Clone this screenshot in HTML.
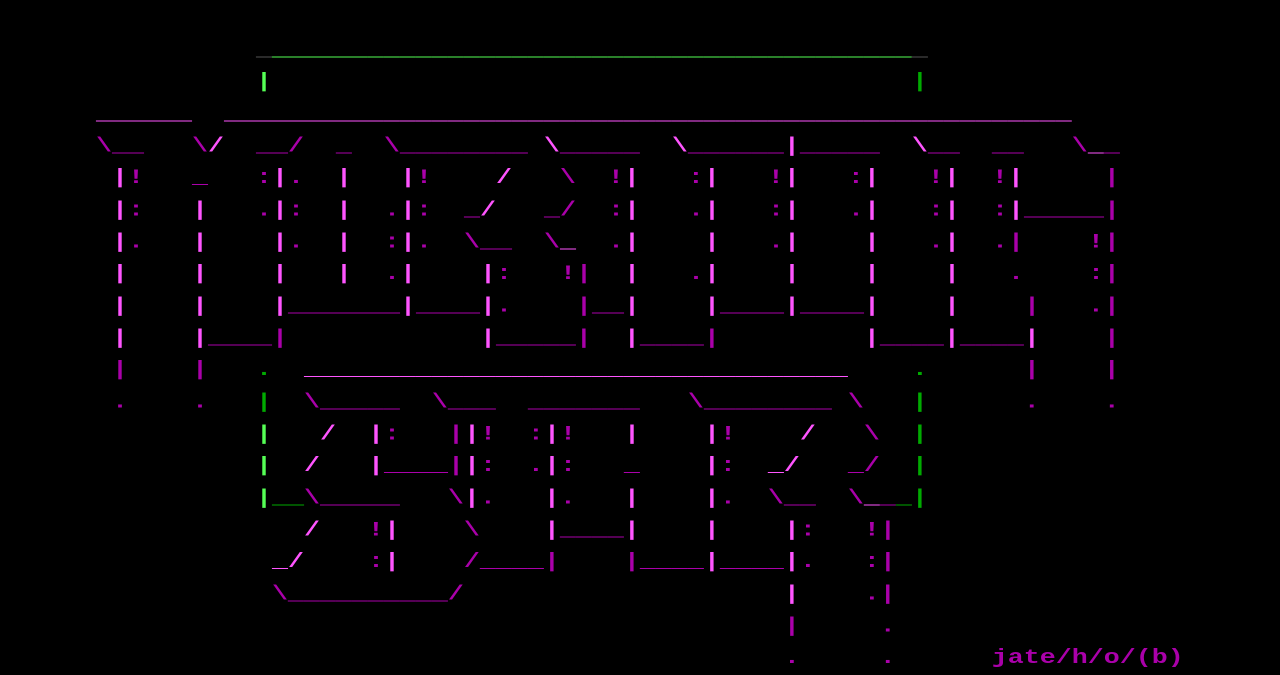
<!DOCTYPE html>
<html><head><meta charset="utf-8"><style>
html,body{margin:0;padding:0;background:#000;width:1280px;height:672px;overflow:hidden}
pre{position:absolute;left:0;top:3px;margin:0;padding:0;font-family:"Liberation Mono",monospace;font-weight:bold;font-size:26.667px;line-height:42.667px;color:#aa00aa;transform:scaleY(0.75);transform-origin:0 0;white-space:pre}
b{font-weight:bold;color:#ff55ff}
.g{color:#55ff55}.G{color:#00aa00}.k{color:#555555}
</style></head><body><pre>

                <span class="k">_</span><span class="g">________________________________________</span><span class="k">_</span>
                <span class="g">|</span>                                        <span class="G">|</span>
      <b>______</b>  <b>_____________________________________________________</b>
      \__   \<b>/</b>  __/  _  \________ <b>\</b>_____  <b>\</b>______<b>|</b>_____  <b>\</b>__  __   \<b>_</b>_
       <b>|</b>!   _   :<b>|</b>.  <b>|</b>   <b>|</b>!    <b>/</b>   \  !<b>|</b>   :<b>|</b>   !<b>|</b>   :<b>|</b>   !<b>|</b>  !<b>|</b>     |
       <b>|</b>:   <b>|</b>   .<b>|</b>:  <b>|</b>  .<b>|</b>:  _<b>/</b>   _/  :<b>|</b>   .<b>|</b>   :<b>|</b>   .<b>|</b>   :<b>|</b>  :<b>|</b>_____|
       <b>|</b>.   <b>|</b>    <b>|</b>.  <b>|</b>  :<b>|</b>.  \__  \<b>_</b>  .<b>|</b>    <b>|</b>   .<b>|</b>    <b>|</b>   .<b>|</b>  .|    !|
       <b>|</b>    <b>|</b>    <b>|</b>   <b>|</b>  .<b>|</b>    <b>|</b>:   !|  <b>|</b>   .<b>|</b>    <b>|</b>    <b>|</b>    <b>|</b>   .    :|
       <b>|</b>    <b>|</b>    <b>|</b>_______<b>|</b>____<b>|</b>.    |__<b>|</b>    <b>|</b>____<b>|</b>____<b>|</b>    <b>|</b>    |   .|
       <b>|</b>    <b>|</b>____|            <b>|</b>_____|  <b>|</b>____|         <b>|</b>____<b>|</b>____<b>|</b>    |
       |    |   <span class="G">.</span>  <b>__________________________________</b>    <span class="G">.</span>      |    |
       .    .   <span class="G">|</span>  \_____  \___  _______   \________ \   <span class="G">|</span>      .    .
                <span class="g">|</span>   <b>/</b>  <b>|</b>:   |<b>|</b>!  :<b>|</b>!   <b>|</b>    <b>|</b>!    <b>/</b>   \  <span class="G">|</span>
                <span class="g">|</span>  <b>/</b>   <b>|</b>____|<b>|</b>:  .<b>|</b>:   _    <b>|</b>:  <b>_/</b>   _/  <span class="G">|</span>
                <span class="g">|</span><span class="G">__</span>\_____   \<b>|</b>.   <b>|</b>.   <b>|</b>    <b>|</b>.  \__  \<b>_</b>_<span class="G">_|</span>
                   <b>/</b>   !<b>|</b>    \    <b>|</b>____<b>|</b>    <b>|</b>    <b>|</b>:   !|
                 <b>_/</b>    :<b>|</b>    /____|    |____<b>|</b>____<b>|</b>.   :|
                 \__________/                    <b>|</b>    .|
                                                 |     .
                                                 .     .      jate/h/o/(b)
</pre></body></html>
